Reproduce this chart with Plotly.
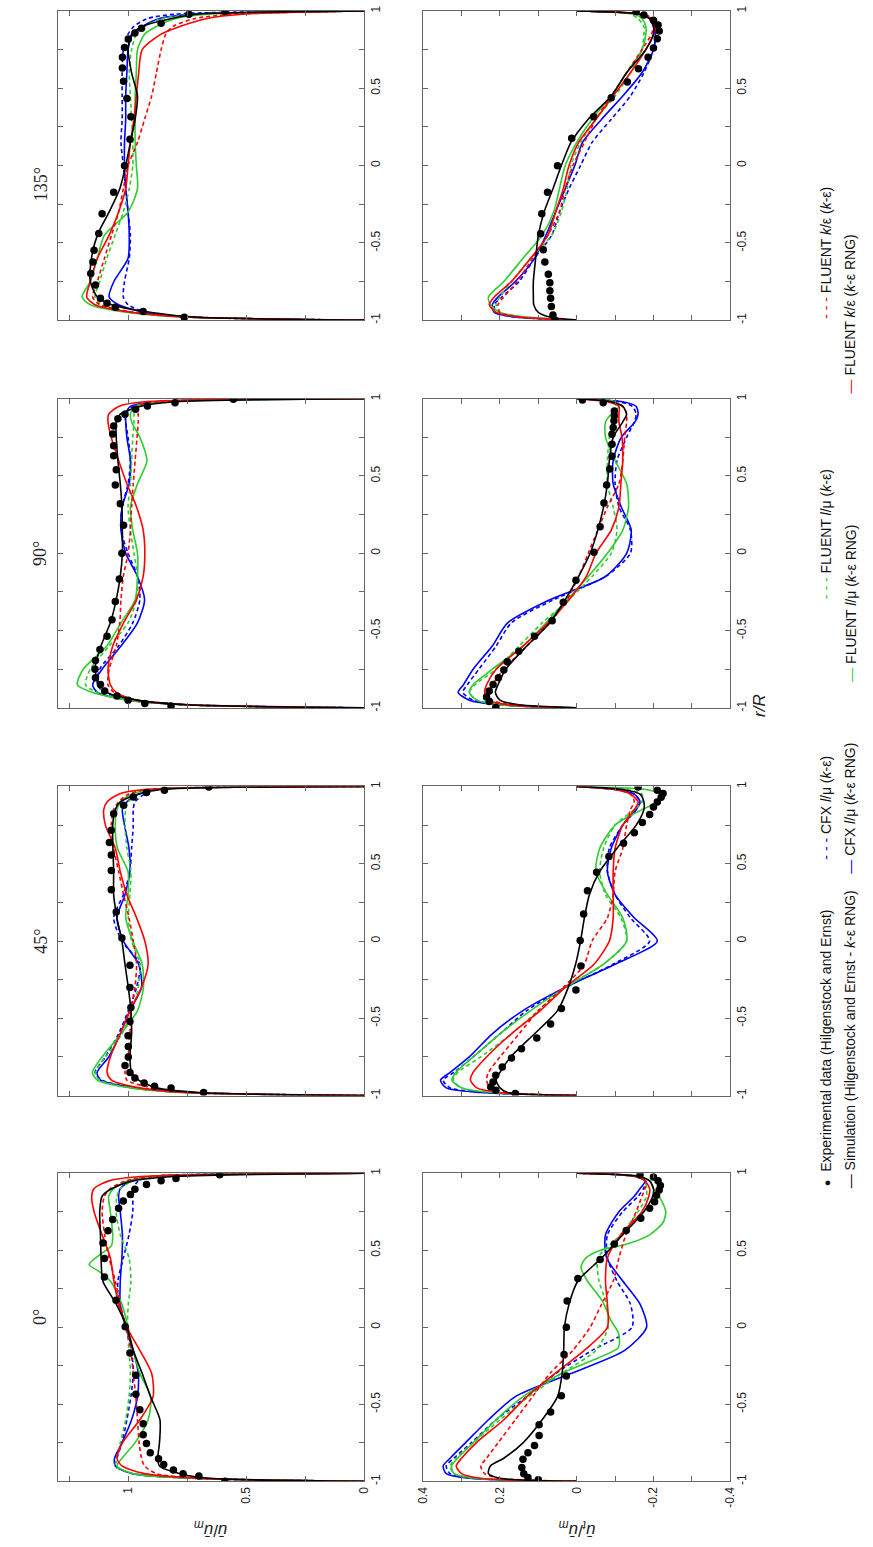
import plotly.graph_objects as go

W, H = 873, 1547

# common radial grid for the simulation curves (r/R)
R = [-1, -0.98, -0.95, -0.9, -0.85, -0.75, -0.6, -0.45, -0.3, -0.15, 0,
     0.15, 0.3, 0.45, 0.6, 0.75, 0.85, 0.9, 0.95, 0.98, 1]

ANGLES = ["0°", "45°", "90°", "135°"]

# ================= 0 deg : axial velocity u/um =================
U0_EXP_R = [-1.0, -0.965, -0.95, -0.926, -0.89, -0.853, -0.815, -0.755, -0.697, -0.626, -0.536,
            -0.435, -0.311, -0.167, 0.004, 0.176, 0.326, 0.446, 0.547, 0.626, 0.70, 0.772,
            0.819, 0.862, 0.896, 0.926, 0.95, 0.965, 0.99]
U0_EXP = [0.59, 0.70, 0.767, 0.808, 0.849, 0.871, 0.906, 0.922, 0.936, 0.936, 0.95,
          0.967, 0.967, 0.992, 1.012, 1.051, 1.10, 1.10, 1.106, 1.085, 1.065, 1.04,
          1.02, 0.99, 0.971, 0.922, 0.86, 0.797, 0.612]
U0_SIM = [0, 0.65, 0.78, 0.867, 0.874, 0.867, 0.865, 0.905, 0.94, 0.978, 1.005, 1.05, 1.107,
          1.114, 1.117, 1.12, 1.11, 1.068, 0.978, 0.79, 0]
U0_CFX_KE = [0, 0.72, 0.98, 1.054, 1.047, 1.026, 1.005, 0.988, 0.978, 0.985, 1.005, 1.04, 1.043,
             1.02, 0.996, 0.98, 0.98, 0.978, 0.957, 0.89, 0]
U0_CFX_RNG = [0, 0.72, 0.98, 1.054, 1.057, 1.026, 0.985, 0.96, 0.957, 0.978, 1.01, 1.033, 1.033,
              1.026, 1.024, 1.033, 1.04, 1.033, 0.988, 0.89, 0]
U0_FLM_KE = [0, 0.72, 0.98, 1.054, 1.047, 1.033, 1.01, 0.996, 0.99, 0.996, 1.003, 0.999, 0.988,
             0.996, 1.033, 1.051, 1.047, 1.033, 0.978, 0.89, 0]
U0_FLM_RNG_R = [-1, -0.98, -0.95, -0.9, -0.85, -0.75, -0.6, -0.45, -0.3, -0.15, 0, 0.15, 0.3,
                0.36, 0.407, 0.47, 0.53, 0.6, 0.75, 0.85, 0.9, 0.95, 0.98, 1]
U0_FLM_RNG = [0, 0.72, 0.98, 1.047, 1.026, 0.971, 0.915, 0.904, 0.95, 0.978, 1.0, 1.026, 1.075,
              1.12, 1.165, 1.12, 1.07, 1.065, 1.075, 1.082, 1.061, 1.0, 0.89, 0]
U0_FKE_KE = [0, 0.7, 0.88, 0.93, 0.943, 0.953, 0.96, 0.967, 0.978, 0.988, 1.01, 1.033, 1.054,
             1.08, 1.099, 1.11, 1.10, 1.075, 1.01, 0.89, 0]
U0_FKE_RNG = [0, 0.7, 0.93, 1.026, 1.047, 1.024, 0.95, 0.894, 0.90, 0.95, 1.005, 1.04, 1.06,
              1.075, 1.11, 1.144, 1.154, 1.144, 1.082, 0.93, 0]

# ================= 0 deg : tangential velocity ut/um =================
UT0_EXP_R = [-0.99, -0.975, -0.95, -0.91, -0.857, -0.815, -0.767, -0.703, -0.632, -0.55, -0.444,
             -0.317, -0.176, 0.0, 0.171, 0.317, 0.44, 0.54, 0.628, 0.707, 0.772, 0.815, 0.857,
             0.89, 0.92, 0.95, 0.975, 0.99]
UT0_EXP = [0.10, 0.127, 0.138, 0.143, 0.14, 0.127, 0.11, 0.098, 0.098, 0.068, 0.04, 0.027,
           0.033, 0.027, 0.025, -0.003, -0.061, -0.098, -0.129, -0.167, -0.19, -0.203, -0.208,
           -0.215, -0.218, -0.212, -0.20, -0.165]
UT0_SIM = [0, 0.2, 0.23, 0.225, 0.19, 0.14, 0.09, 0.05, 0.038, 0.034, 0.032, 0.02, -0.003,
           -0.065, -0.12, -0.175, -0.198, -0.2, -0.19, -0.16, 0]
UT0_CFX_KE = [0, 0.27, 0.33, 0.34, 0.32, 0.275, 0.21, 0.13, 0.055, -0.04, -0.144, -0.14, -0.105,
              -0.08, -0.08, -0.12, -0.16, -0.174, -0.18, -0.15, 0]
UT0_CFX_RNG = [0, 0.28, 0.34, 0.348, 0.33, 0.29, 0.23, 0.16, 0.015, -0.125, -0.182, -0.165,
               -0.12, -0.078, -0.075, -0.11, -0.15, -0.165, -0.178, -0.15, 0]
UT0_FLM_KE = [0, 0.27, 0.32, 0.33, 0.315, 0.27, 0.2, 0.125, 0.04, -0.05, -0.082, -0.078, -0.058,
              -0.055, -0.114, -0.16, -0.182, -0.182, -0.178, -0.15, 0]
UT0_FLM_RNG_R = [-1, -0.98, -0.95, -0.9, -0.85, -0.75, -0.6, -0.45, -0.3, -0.2, -0.13, -0.04, 0.05,
                 0.17, 0.3, 0.39, 0.45, 0.5, 0.54, 0.6, 0.68, 0.75, 0.85, 0.9, 0.95, 0.98, 1]
UT0_FLM_RNG = [0, 0.26, 0.32, 0.326, 0.31, 0.27, 0.21, 0.14, 0.04, -0.055, -0.109, -0.109, -0.088,
               -0.067, -0.028, -0.011, -0.024, -0.062, -0.131, -0.19, -0.225, -0.232, -0.215,
               -0.2, -0.19, -0.16, 0]
UT0_FKE_KE = [0, 0.2, 0.24, 0.25, 0.235, 0.205, 0.16, 0.115, 0.07, 0.01, -0.035, -0.065, -0.095,
              -0.11, -0.128, -0.155, -0.17, -0.178, -0.178, -0.15, 0]
UT0_FKE_RNG = [0, 0.25, 0.3, 0.314, 0.3, 0.262, 0.19, 0.13, 0.057, -0.02, -0.08, -0.08, -0.075,
               -0.08, -0.115, -0.17, -0.188, -0.19, -0.178, -0.15, 0]

# ================= 45 deg : u/um =================
U45_EXP_R = [-0.98, -0.95, -0.94, -0.918, -0.886, -0.85, -0.805, -0.75, -0.683, -0.612, -0.52,
             -0.43, -0.30, -0.157, 0.02, 0.188, 0.331, 0.456, 0.557, 0.638, 0.717, 0.824, 0.878,
             0.932, 0.96, 0.975, 0.996]
U45_EXP = [0.68, 0.818, 0.888, 0.932, 0.971, 0.992, 1.013, 0.999, 0.999, 1.0, 0.992, 0.988,
           0.992, 0.992, 1.026, 1.05, 1.071, 1.071, 1.071, 1.079, 1.071, 1.061, 1.019, 0.978,
           0.922, 0.846, 0.658]
U45_SIM = [0, 0.7, 0.88, 0.955, 0.985, 0.992, 0.985, 0.988, 0.999, 1.013, 1.026, 1.047, 1.061,
           1.061, 1.064, 1.065, 1.054, 1.033, 0.957, 0.86, 0]
U45_CFX_KE = [0, 0.75, 0.97, 1.11, 1.14, 1.096, 1.04, 0.999, 0.964, 0.95, 1.026, 1.061, 1.02,
              0.992, 0.985, 0.978, 0.978, 0.971, 0.93, 0.87, 0]
U45_CFX_RNG = [0, 0.75, 0.97, 1.117, 1.131, 1.082, 1.033, 0.992, 0.943, 0.955, 1.02, 1.047, 1.013,
               0.992, 0.996, 1.015, 1.024, 1.005, 0.957, 0.89, 0]
U45_FLM_KE = [0, 0.76, 0.99, 1.12, 1.14, 1.096, 1.026, 0.985, 0.957, 0.95, 0.985, 0.999, 0.992,
              0.988, 1.005, 1.013, 1.01, 0.999, 0.957, 0.88, 0]
U45_FLM_RNG = [0, 0.76, 0.99, 1.13, 1.151, 1.11, 1.03, 0.96, 0.935, 0.94, 0.98, 1.01, 1.0, 1.0,
               1.045, 1.054, 1.047, 1.033, 0.985, 0.90, 0]
U45_FKE_KE = [0, 0.72, 0.9, 1.005, 1.013, 1.0, 0.992, 0.988, 0.971, 0.964, 0.978, 0.996, 1.019,
              1.04, 1.061, 1.071, 1.061, 1.04, 0.999, 0.915, 0]
U45_FKE_RNG = [0, 0.75, 0.95, 1.07, 1.089, 1.075, 1.033, 0.992, 0.943, 0.915, 0.929, 0.964, 1.005,
               1.033, 1.054, 1.096, 1.103, 1.089, 1.04, 0.93, 0]

# ================= 45 deg : ut/um =================
UT45_EXP_R = [-0.987, -0.966, -0.945, -0.912, -0.869, -0.815, -0.757, -0.697, -0.627, -0.537,
              -0.436, -0.316, -0.162, 0.004, 0.175, 0.325, 0.445, 0.546, 0.632, 0.70, 0.766,
              0.818, 0.867, 0.90, 0.93, 0.955, 0.975, 0.996]
UT45_EXP = [0.16, 0.211, 0.224, 0.218, 0.211, 0.194, 0.17, 0.144, 0.104, 0.068, 0.04, 0.002,
            -0.011, -0.009, -0.018, -0.028, -0.052, -0.084, -0.122, -0.15, -0.171, -0.19, -0.20,
            -0.21, -0.22, -0.225, -0.21, -0.16]
UT45_SIM = [0, 0.18, 0.2, 0.21, 0.2, 0.172, 0.11, 0.05, 0.022, 0.003, -0.01, -0.02, -0.033,
            -0.06, -0.105, -0.155, -0.175, -0.175, -0.165, -0.12, 0]
UT45_CFX_KE = [0, 0.24, 0.33, 0.348, 0.32, 0.27, 0.2, 0.13, 0.03, -0.095, -0.19, -0.14, -0.10,
               -0.08, -0.085, -0.12, -0.155, -0.165, -0.15, -0.10, 0]
UT45_CFX_RNG = [0, 0.25, 0.34, 0.355, 0.33, 0.28, 0.22, 0.14, 0.03, -0.10, -0.21, -0.15, -0.10,
                -0.08, -0.09, -0.12, -0.155, -0.165, -0.15, -0.10, 0]
UT45_FLM_KE = [0, 0.22, 0.3, 0.322, 0.31, 0.25, 0.17, 0.10, 0.03, -0.07, -0.13, -0.115, -0.075,
               -0.06, -0.07, -0.10, -0.15, -0.17, -0.17, -0.13, 0]
UT45_FLM_RNG = [0, 0.22, 0.3, 0.325, 0.315, 0.27, 0.2, 0.12, 0.03, -0.07, -0.13, -0.12, -0.08,
                -0.05, -0.06, -0.10, -0.17, -0.21, -0.22, -0.18, 0]
UT45_FKE_KE = [0, 0.18, 0.225, 0.235, 0.23, 0.2, 0.15, 0.10, 0.035, -0.02, -0.04, -0.08, -0.095,
               -0.10, -0.12, -0.13, -0.14, -0.15, -0.14, -0.10, 0]
UT45_FKE_RNG = [0, 0.2, 0.26, 0.277, 0.27, 0.235, 0.17, 0.095, 0.03, -0.045, -0.085, -0.095,
                -0.095, -0.095, -0.10, -0.12, -0.15, -0.16, -0.14, -0.10, 0]

# ================= 90 deg : u/um =================
U90_EXP_R = [-0.987, -0.972, -0.95, -0.923, -0.89, -0.848, -0.805, -0.75, -0.693, -0.623, -0.537,
             -0.43, -0.312, -0.166, 0.0, 0.181, 0.32, 0.442, 0.541, 0.631, 0.696, 0.771, 0.824,
             0.871, 0.899, 0.931, 0.953, 0.974, 0.996]
U90_EXP = [0.818, 0.929, 1.0, 1.047, 1.099, 1.117, 1.138, 1.14, 1.138, 1.119, 1.089, 1.068,
           1.054, 1.037, 1.026, 1.019, 1.033, 1.054, 1.05, 1.061, 1.061, 1.065, 1.061, 1.043,
           1.013, 0.968, 0.918, 0.801, 0.554]
U90_SIM = [0, 0.75, 0.96, 1.09, 1.12, 1.14, 1.115, 1.075, 1.05, 1.033, 1.024, 1.024, 1.026,
           1.033, 1.043, 1.05, 1.05, 1.033, 0.95, 0.80, 0]
U90_CFX_KE = [0, 0.75, 0.98, 1.10, 1.13, 1.12, 1.04, 0.98, 0.95, 0.96, 1.0, 1.03, 1.025, 1.0,
              0.99, 1.0, 1.01, 1.01, 0.98, 0.87, 0]
U90_CFX_RNG = [0, 0.75, 1.0, 1.13, 1.15, 1.11, 1.03, 0.96, 0.93, 0.96, 1.01, 1.03, 1.025, 0.995,
               0.99, 1.005, 1.01, 1.01, 0.99, 0.88, 0]
U90_FLM_KE = [0, 0.76, 0.99, 1.13, 1.18, 1.16, 1.08, 1.0, 0.965, 0.96, 0.975, 0.99, 1.0, 0.99,
              0.985, 0.98, 0.975, 0.975, 0.96, 0.86, 0]
U90_FLM_RNG = [0, 0.76, 1.0, 1.15, 1.215, 1.19, 1.09, 1.03, 0.97, 0.96, 0.96, 0.98, 0.99, 0.96,
               0.92, 0.95, 0.985, 0.99, 0.97, 0.87, 0]
U90_FKE_KE = [0, 0.75, 0.96, 1.06, 1.085, 1.08, 1.05, 1.035, 1.03, 1.02, 1.0, 0.99, 0.985, 0.978,
              0.97, 0.962, 0.957, 0.957, 0.96, 0.88, 0]
U90_FKE_RNG = [0, 0.75, 0.97, 1.05, 1.075, 1.085, 1.065, 1.019, 0.964, 0.936, 0.929, 0.936, 0.964,
               1.005, 1.04, 1.071, 1.085, 1.082, 1.04, 0.93, 0]

# ================= 90 deg : ut/um =================
UT90_EXP_R = [-0.998, -0.959, -0.93, -0.89, -0.848, -0.805, -0.755, -0.702, -0.633, -0.537,
              -0.436, -0.316, -0.175, 0.006, 0.171, 0.325, 0.442, 0.546, 0.627, 0.706, 0.77,
              0.814, 0.857, 0.89, 0.921, 0.974, 0.991]
UT90_EXP = [0.211, 0.228, 0.235, 0.228, 0.218, 0.204, 0.19, 0.181, 0.151, 0.11, 0.064, 0.035,
            0.002, -0.045, -0.061, -0.071, -0.078, -0.086, -0.092, -0.092, -0.092, -0.095,
            -0.097, -0.098, -0.098, -0.069, -0.015]
UT90_SIM = [0, 0.15, 0.2, 0.212, 0.205, 0.185, 0.13, 0.07, 0.03, -0.005, -0.035, -0.055, -0.07,
            -0.08, -0.085, -0.095, -0.12, -0.13, -0.12, -0.09, 0]
UT90_CFX_KE = [0, 0.2, 0.27, 0.297, 0.285, 0.255, 0.21, 0.17, 0.06, -0.075, -0.14, -0.14, -0.11,
               -0.10, -0.105, -0.13, -0.15, -0.155, -0.145, -0.11, 0]
UT90_CFX_RNG = [0, 0.2, 0.28, 0.309, 0.295, 0.27, 0.22, 0.18, 0.07, -0.075, -0.13, -0.142,
                -0.116, -0.095, -0.095, -0.116, -0.152, -0.16, -0.155, -0.12, 0]
UT90_FLM_KE = [0, 0.2, 0.26, 0.28, 0.265, 0.21, 0.15, 0.09, 0.02, -0.04, -0.09, -0.105, -0.095,
               -0.08, -0.08, -0.085, -0.095, -0.10, -0.105, -0.09, 0]
UT90_FLM_RNG = [0, 0.2, 0.26, 0.28, 0.27, 0.22, 0.14, 0.08, 0.025, -0.03, -0.08, -0.12, -0.135,
                -0.13, -0.10, -0.075, -0.075, -0.09, -0.11, -0.10, 0]
UT90_FKE_KE = [0, 0.17, 0.22, 0.228, 0.22, 0.19, 0.13, 0.07, 0.025, -0.005, -0.03, -0.055, -0.08,
               -0.11, -0.12, -0.125, -0.13, -0.13, -0.12, -0.09, 0]
UT90_FKE_RNG = [0, 0.18, 0.23, 0.24, 0.235, 0.21, 0.14, 0.075, 0.02, -0.025, -0.05, -0.09, -0.11,
                -0.115, -0.12, -0.118, -0.11, -0.11, -0.11, -0.08, 0]

# ================= 135 deg : u/um =================
U135_EXP_R = [-0.981, -0.944, -0.917, -0.891, -0.859, -0.773, -0.698, -0.623, -0.548, -0.44,
              -0.312, -0.172, -0.001, 0.17, 0.316, 0.434, 0.546, 0.631, 0.70, 0.764, 0.818,
              0.857, 0.889, 0.921, 0.979, 0.996]
U135_EXP = [0.762, 0.936, 1.054, 1.089, 1.117, 1.138, 1.158, 1.149, 1.144, 1.124, 1.11, 1.061,
            1.015, 0.992, 0.988, 1.005, 1.019, 1.024, 1.024, 1.015, 0.999, 0.971, 0.943, 0.86,
            0.742, 0.589]
U135_SIM = [0, 0.72, 0.9, 1.07, 1.13, 1.16, 1.155, 1.13, 1.08, 1.035, 1.01, 0.99, 0.97, 0.96,
            0.985, 1.0, 0.985, 0.94, 0.82, 0.70, 0]
U135_CFX_KE = [0, 0.72, 0.92, 1.0, 1.02, 1.015, 0.995, 0.99, 1.0, 1.01, 1.02, 1.03, 1.025, 1.025,
               1.025, 1.02, 1.0, 0.975, 0.92, 0.80, 0]
U135_CFX_RNG = [0, 0.74, 0.93, 1.04, 1.08, 1.06, 1.0, 0.995, 1.0, 1.01, 1.015, 1.015, 1.01, 1.01,
                1.005, 1.0, 0.98, 0.94, 0.87, 0.72, 0]
U135_FLM_KE = [0, 0.76, 0.99, 1.11, 1.14, 1.12, 1.09, 1.055, 1.02, 0.995, 0.98, 0.98, 0.985, 0.99,
               0.995, 0.985, 0.965, 0.93, 0.86, 0.70, 0]
U135_FLM_RNG = [0, 0.76, 1.0, 1.16, 1.195, 1.16, 1.13, 1.10, 1.0, 0.96, 0.965, 0.97, 0.97, 0.97,
                0.965, 0.96, 0.93, 0.88, 0.80, 0.65, 0]
U135_FKE_KE = [0, 0.75, 0.97, 1.12, 1.15, 1.13, 1.10, 1.07, 1.04, 1.02, 1.0, 0.96, 0.93, 0.90,
               0.88, 0.86, 0.84, 0.81, 0.72, 0.55, 0]
U135_FKE_RNG = [0, 0.75, 0.98, 1.14, 1.175, 1.16, 1.13, 1.08, 1.04, 1.01, 1.0, 0.99, 0.975, 0.965,
                0.955, 0.94, 0.86, 0.78, 0.67, 0.50, 0]

# ================= 135 deg : ut/um =================
UT135_EXP_R = [-0.999, -0.966, -0.912, -0.859, -0.81, -0.758, -0.703, -0.623, -0.544, -0.441,
               -0.312, -0.173, -0.001, 0.177, 0.315, 0.438, 0.541, 0.627, 0.70, 0.76, 0.82, 0.87,
               0.91, 0.94, 0.974, 0.996]
UT135_EXP = [0.057, 0.062, 0.066, 0.068, 0.07, 0.07, 0.074, 0.083, 0.087, 0.094, 0.091, 0.076,
             0.05, 0.013, -0.044, -0.09, -0.132, -0.161, -0.186, -0.20, -0.21, -0.215, -0.212,
             -0.20, -0.175, -0.155]
UT135_SIM = [0, 0.07, 0.1, 0.112, 0.113, 0.113, 0.107, 0.10, 0.085, 0.062, 0.04, 0.015, -0.03,
             -0.09, -0.13, -0.18, -0.20, -0.20, -0.19, -0.16, 0]
UT135_CFX_KE = [0, 0.16, 0.21, 0.215, 0.195, 0.15, 0.11, 0.065, 0.045, 0.02, -0.01, -0.04, -0.09,
                -0.14, -0.175, -0.20, -0.205, -0.20, -0.19, -0.16, 0]
UT135_CFX_RNG = [0, 0.16, 0.215, 0.22, 0.205, 0.16, 0.11, 0.08, 0.055, 0.03, 0.005, -0.015,
                 -0.065, -0.12, -0.17, -0.20, -0.205, -0.20, -0.19, -0.16, 0]
UT135_FLM_KE = [0, 0.14, 0.2, 0.21, 0.2, 0.17, 0.12, 0.065, 0.04, 0.025, 0.015, -0.01, -0.05,
                -0.10, -0.14, -0.17, -0.175, -0.175, -0.16, -0.14, 0]
UT135_FLM_RNG = [0, 0.13, 0.2, 0.225, 0.23, 0.19, 0.14, 0.09, 0.06, 0.045, 0.03, 0.0, -0.04,
                 -0.09, -0.13, -0.17, -0.18, -0.18, -0.17, -0.15, 0]
UT135_FKE_KE = [0, 0.15, 0.2, 0.205, 0.19, 0.155, 0.115, 0.075, 0.045, 0.03, 0.01, -0.02, -0.05,
                -0.09, -0.13, -0.17, -0.195, -0.20, -0.20, -0.17, 0]
UT135_FKE_RNG = [0, 0.15, 0.21, 0.228, 0.215, 0.17, 0.12, 0.075, 0.055, 0.035, 0.02, -0.005,
                 -0.05, -0.095, -0.14, -0.18, -0.20, -0.205, -0.195, -0.16, 0]

# ---------------------------------------------------------------
BLUE, GREEN, RED, BLACK = "#0000ff", "#2ecc2e", "#ff0000", "#000000"
DASH = "4px,3px"

# panel geometry in pixels (rotated page)
PANEL_Y = [(1175, 1485), (786, 1097), (396, 707), (6, 317)]   # 0, 45, 90, 135 deg
U_X = (52, 363)
UT_X = (423, 735)

PANELS = [
    (0, 0, U0_EXP_R, U0_EXP, U0_SIM, U0_CFX_KE, U0_CFX_RNG, U0_FLM_KE, U0_FLM_RNG_R, U0_FLM_RNG, U0_FKE_KE, U0_FKE_RNG),
    (0, 1, UT0_EXP_R, UT0_EXP, UT0_SIM, UT0_CFX_KE, UT0_CFX_RNG, UT0_FLM_KE, UT0_FLM_RNG_R, UT0_FLM_RNG, UT0_FKE_KE, UT0_FKE_RNG),
    (1, 0, U45_EXP_R, U45_EXP, U45_SIM, U45_CFX_KE, U45_CFX_RNG, U45_FLM_KE, R, U45_FLM_RNG, U45_FKE_KE, U45_FKE_RNG),
    (1, 1, UT45_EXP_R, UT45_EXP, UT45_SIM, UT45_CFX_KE, UT45_CFX_RNG, UT45_FLM_KE, R, UT45_FLM_RNG, UT45_FKE_KE, UT45_FKE_RNG),
    (2, 0, U90_EXP_R, U90_EXP, U90_SIM, U90_CFX_KE, U90_CFX_RNG, U90_FLM_KE, R, U90_FLM_RNG, U90_FKE_KE, U90_FKE_RNG),
    (2, 1, UT90_EXP_R, UT90_EXP, UT90_SIM, UT90_CFX_KE, UT90_CFX_RNG, UT90_FLM_KE, R, UT90_FLM_RNG, UT90_FKE_KE, UT90_FKE_RNG),
    (3, 0, U135_EXP_R, U135_EXP, U135_SIM, U135_CFX_KE, U135_CFX_RNG, U135_FLM_KE, R, U135_FLM_RNG, U135_FKE_KE, U135_FKE_RNG),
    (3, 1, UT135_EXP_R, UT135_EXP, UT135_SIM, UT135_CFX_KE, UT135_CFX_RNG, UT135_FLM_KE, R, UT135_FLM_RNG, UT135_FKE_KE, UT135_FKE_RNG),
]

fig = go.Figure()
layout = {}
TICKFONT = dict(family="Liberation Sans, Arial, sans-serif", size=12, color="#222")
AXCOL = "#666666"

for (ai, kind, er, ev, sim, cke, crng, fmke, fmrr, fmrng, fkke, fkrng) in PANELS:
    idx = ai * 2 + kind + 1
    s = "" if idx == 1 else str(idx)
    xr, yr = "x" + s, "y" + s

    def line(vals, color, dash, rr=R, width=1.6):
        fig.add_trace(go.Scatter(
            x=vals, y=rr, xaxis=xr, yaxis=yr, mode="lines",
            line=dict(color=color, width=width, dash=dash, shape="spline", smoothing=0.7),
            showlegend=False, hoverinfo="skip"))

    line(cke, BLUE, DASH)
    line(crng, BLUE, "solid")
    line(fmke, GREEN, DASH)
    line(fmrng, GREEN, "solid", rr=fmrr)
    line(fkke, RED, DASH)
    line(fkrng, RED, "solid")
    line(sim, BLACK, "solid")
    fig.add_trace(go.Scatter(
        x=ev, y=er, xaxis=xr, yaxis=yr, mode="markers",
        marker=dict(color=BLACK, size=7.5), showlegend=False, hoverinfo="skip"))

    y0, y1 = PANEL_Y[ai]
    x0, x1 = U_X if kind == 0 else UT_X
    if kind == 0:
        xa = dict(range=[1.296, 0], tickmode="array", tickvals=[0, 0.5, 1],
                  ticktext=["0", "0.5", "1"],
                  minor=dict(tickvals=[0.25, 0.75, 1.25], ticks="inside", ticklen=5,
                             tickcolor=AXCOL))
    else:
        xa = dict(range=[0.4, -0.4], tickmode="array", tickvals=[0.4, 0.2, 0, -0.2, -0.4],
                  ticktext=["0.4", "0.2", "0", "-0.2", "-0.4"],
                  minor=dict(tickvals=[0.3, 0.1, -0.1, -0.3], ticks="inside", ticklen=5,
                             tickcolor=AXCOL))
    xa.update(domain=[x0 / W, x1 / W], anchor=yr, showgrid=False, zeroline=False,
              showline=True, linecolor=AXCOL, linewidth=1, mirror="ticks",
              ticks="inside", ticklen=5, tickcolor=AXCOL, tickangle=-90,
              showticklabels=(ai == 0), tickfont=TICKFONT)
    ya = dict(domain=[1 - y1 / H, 1 - y0 / H], anchor=xr, range=[-1, 1], side="right",
              tickmode="array", tickvals=[-1, -0.5, 0, 0.5, 1],
              ticktext=["-1", "-0.5", "0", "0.5", "1"],
              minor=dict(tickvals=[-0.75, -0.25, 0.25, 0.75], ticks="inside", ticklen=5,
                         tickcolor=AXCOL),
              showgrid=False, zeroline=False, showline=True, linecolor=AXCOL, linewidth=1,
              mirror="ticks", ticks="inside", ticklen=5, tickcolor=AXCOL, tickangle=-90,
              tickfont=TICKFONT)
    layout["xaxis" + s] = xa
    layout["yaxis" + s] = ya

annotations = []
SERIF = "Liberation Serif, Times New Roman, serif"
SANS = "Liberation Sans, Arial, sans-serif"

# panel titles
for ai, (y0, y1) in enumerate(PANEL_Y):
    annotations.append(dict(text=ANGLES[ai], x=22 / W, y=1 - (y0 + y1) / 2 / H,
                            xref="paper", yref="paper", showarrow=False, textangle=-90,
                            font=dict(family=SERIF, size=18, color="#222")))

# axis titles (upside down, as in the rotated page)
annotations.append(dict(text="<i>ū</i>/<i>ū</i><sub><i>m</i></sub>", x=207 / W, y=1 - 1546 / H,
                        xref="paper", yref="paper", showarrow=False, textangle=180,
                        xanchor="center", yanchor="bottom",
                        font=dict(family=SANS, size=17, color="#222")))
annotations.append(dict(text="<i>ū</i><sub><i>t</i></sub>/<i>ū</i><sub><i>m</i></sub>",
                        x=579 / W, y=1 - 1546 / H, xref="paper", yref="paper",
                        showarrow=False, textangle=180, xanchor="center", yanchor="bottom",
                        font=dict(family=SANS, size=17, color="#222")))
annotations.append(dict(text="<i>r/R</i>", x=777 / W, y=1 - 705 / H, xref="paper", yref="paper",
                        showarrow=False, textangle=-90,
                        font=dict(family=SANS, size=17, color="#222")))

# legend (rotated, two rows)
def sym(color, dashed):
    return f"<span style='color:{color}'>{'- - -' if dashed else '—'}</span>"

LEG = [
    (832, 1190, "<span style='font-size:11px'>●</span>  Experimental data (Hilgenstock and Ernst)"),
    (832, 862, sym(BLUE, True) + " CFX <i>l</i>/μ (<i>k</i>-ε)"),
    (832, 600, sym(GREEN, True) + " FLUENT <i>l</i>/μ (<i>k</i>-ε)"),
    (832, 318, sym(RED, True) + " FLUENT <i>k</i>/ε (<i>k</i>-ε)"),
    (857, 1192, sym(BLACK, False) + " Simulation (Hilgenstock and Ernst - <i>k</i>-ε RNG)"),
    (857, 876, sym(BLUE, False) + " CFX <i>l</i>/μ (<i>k</i>-ε RNG)"),
    (857, 683, sym(GREEN, False) + " FLUENT <i>l</i>/μ (<i>k</i>-ε RNG)"),
    (857, 393, sym(RED, False) + " FLUENT <i>k</i>/ε (<i>k</i>-ε RNG)"),
]
for (lx, ly, txt) in LEG:
    annotations.append(dict(text=txt, x=lx / W, y=1 - ly / H, xref="paper", yref="paper",
                            xanchor="center", yanchor="bottom", showarrow=False, textangle=-90,
                            font=dict(family=SANS, size=14, color="#111")))

fig.update_layout(width=W, height=H, margin=dict(l=0, r=0, t=0, b=0),
                  paper_bgcolor="white", plot_bgcolor="white", showlegend=False,
                  annotations=annotations, **layout)

fig.write_html("out.html")
